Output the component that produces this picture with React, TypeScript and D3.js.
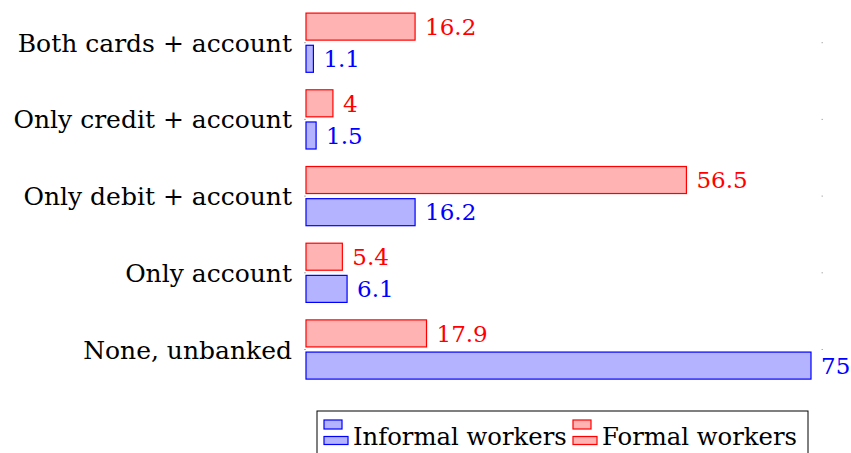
import * as d3 from "d3";

const categories = [
  "Both cards + account",
  "Only credit + account",
  "Only debit + account",
  "Only account",
  "None, unbanked",
];
const formalWorkers = [16.2, 4, 56.5, 5.4, 17.9];
const informalWorkers = [1.1, 1.5, 16.2, 6.1, 75];
const seriesNames = ["Formal workers", "Informal workers"];

const W = 851;
const H = 453;
const FONT = "'DejaVu Serif', serif";

const RED = "#ff0000";
const RED_FILL = "#ffb3b3";
const BLUE = "#0000ff";
const BLUE_FILL = "#b3b3ff";

export default function App() {
  const x = d3.scaleLinear().domain([0, 75]).range([306, 811]);
  const y = d3.scalePoint<string>().domain(categories).range([42.7, 349.5]);
  const inner = d3
    .scaleBand<string>()
    .domain(seriesNames)
    .range([-29.6, 29.6])
    .paddingInner(0.16);

  const series = [
    { name: seriesNames[0], values: formalWorkers, stroke: RED, fill: RED_FILL },
    { name: seriesNames[1], values: informalWorkers, stroke: BLUE, fill: BLUE_FILL },
  ];

  // legend order: Informal first, then Formal
  const legendItems = [
    { name: "Informal workers", stroke: BLUE, fill: BLUE_FILL, x: 324 },
    { name: "Formal workers", stroke: RED, fill: RED_FILL, x: 573 },
  ];

  return (
    <svg
      width={W}
      height={H}
      viewBox={`0 0 ${W} ${H}`}
      style={{ position: "absolute", left: 0, top: 0, background: "#fff" }}
    >
      {/* tiny tick marks at both sides */}
      {categories.map((c) => (
        <g key={`tick-${c}`} stroke="#999" strokeWidth={0.8}>
          <line x1={304} x2={306} y1={y(c)!} y2={y(c)!} />
          <line x1={821.5} x2={823} y1={y(c)!} y2={y(c)!} />
        </g>
      ))}

      {/* category labels */}
      {categories.map((c) => (
        <text
          key={`lab-${c}`}
          x={292}
          y={y(c)!}
          dy="0.36em"
          textAnchor="end"
          fontFamily={FONT}
          fontSize={25}
          fill="#000"
        >
          {c}
        </text>
      ))}

      {/* bars */}
      {series.map((s) =>
        s.values.map((v, i) => {
          const c = categories[i];
          const top = y(c)! + inner(s.name)!;
          const bw = inner.bandwidth();
          return (
            <g key={`${s.name}-${c}`}>
              <rect
                x={x(0)}
                y={top}
                width={x(v) - x(0)}
                height={bw}
                fill={s.fill}
                stroke={s.stroke}
                strokeWidth={1.2}
              />
              <text
                x={x(v) + 10}
                y={top + bw / 2}
                dy="0.36em"
                fontFamily={FONT}
                fontSize={23}
                fill={s.stroke}
              >
                {v}
              </text>
            </g>
          );
        })
      )}

      {/* legend */}
      <rect x={317} y={411} width={491} height={60} fill="#fff" stroke="#000" strokeWidth={1} />
      {legendItems.map((l) => (
        <g key={l.name}>
          <rect x={l.x} y={420} width={18} height={9} fill={l.fill} stroke={l.stroke} strokeWidth={1.2} />
          <rect x={l.x} y={436.5} width={24} height={8} fill={l.fill} stroke={l.stroke} strokeWidth={1.2} />
          <text x={l.x + 29} y={445} fontFamily={FONT} fontSize={24.3} fill="#000">
            {l.name}
          </text>
        </g>
      ))}
    </svg>
  );
}
